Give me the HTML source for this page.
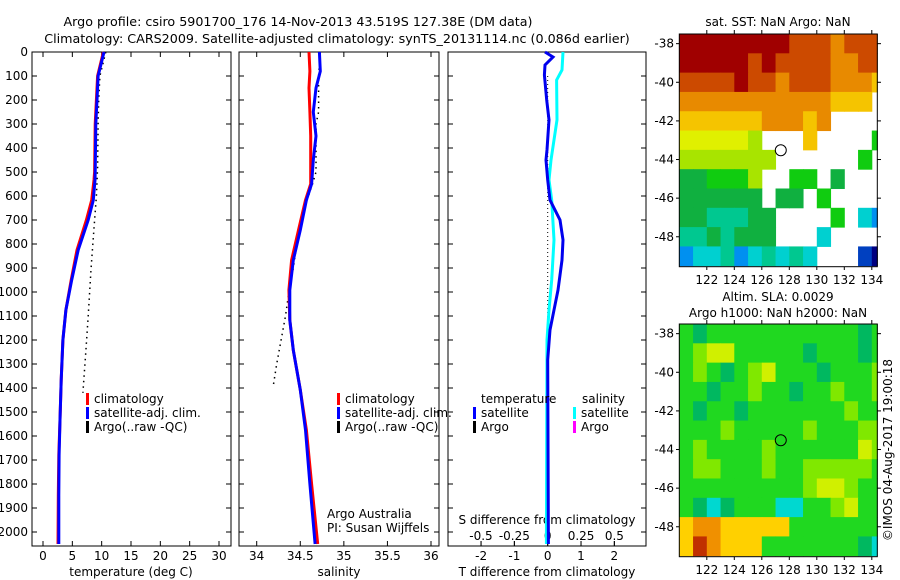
<!DOCTYPE html>
<html><head><meta charset="utf-8"><style>
body{margin:0;background:#fff}
svg{display:block;font-family:"DejaVu Sans","Liberation Sans",sans-serif;font-size:12px}
</style></head><body>
<svg id="s" width="900" height="580" viewBox="0 0 900 580">
<text x="298" y="26" text-anchor="middle" style="font-size:12.7px">Argo profile: csiro 5901700_176 14-Nov-2013 43.519S 127.38E (DM data)</text>
<text x="337" y="43" text-anchor="middle" style="font-size:12.7px">Climatology: CARS2009. Satellite-adjusted climatology: synTS_20131114.nc (0.086d earlier)</text>
<g id="g"></g>
</svg>
<script>
// ---- data ----
const tDepth=[0,100,200,300,500,533,617,700,825,950,1075,1200,1367,1533,1680,1850,2050];
const tSat=[10.4,9.4,9.2,9.0,8.9,8.86,8.57,7.7,6.0,4.9,3.9,3.4,3.1,2.9,2.75,2.7,2.7];
const tClim=[10.3,9.3,9.1,8.9,8.8,8.7,8.3,7.4,5.8,4.8,3.9,3.4,3.1,2.9,2.7,2.6,2.55];
const argoTDepth=[0,100,200,300,480,600,700,900,1100,1250,1420];
const argoT=[10.7,9.7,9.5,9.4,9.3,9.1,8.8,8.2,7.7,7.3,6.8];
const sDepth=[0,80,150,250,350,450,550,617,742,867,992,1117,1242,1408,1575,1800,2050];
const sSat=[34.72,34.73,34.68,34.65,34.68,34.65,34.63,34.57,34.50,34.42,34.38,34.38,34.42,34.50,34.56,34.61,34.67];
const sClim=[34.60,34.61,34.60,34.61,34.62,34.62,34.62,34.56,34.48,34.40,34.37,34.38,34.42,34.50,34.57,34.63,34.70];
const argoSDepth=[0,100,250,300,500,550,700,900,1000,1100,1200,1300,1390];
const argoS=[34.73,34.71,34.71,34.68,34.68,34.64,34.50,34.42,34.37,34.33,34.28,34.23,34.19];
const dDepth=[0,21,54,96,200,283,408,450,533,617,700,783,867,992,1075,1158,1283,2050];
const dT=[-0.08,0.16,-0.08,-0.1,-0.03,0.04,-0.02,-0.05,0,0.07,0.37,0.46,0.43,0.31,0.19,0.07,0,0.02];
const dSDepth=[0,75,117,283,450,533,617,783,950,1075,1200,2050];
const dS=[0.115,0.107,0.067,0.07,0.025,0.01,0.03,0.047,0.03,0.01,-0.005,-0.01];
const depthTicks=[0,100,200,300,400,500,600,700,800,900,1000,1100,1200,1300,1400,1500,1600,1700,1800,1900,2000];
const tempTicks=[0,5,10,15,20,25,30];
const salTicks=[34,34.5,35,35.5,36];
const dTTicks=[-2,-1,0,1,2];
const dSTicks=[-0.5,-0.25,0,0.25,0.5];
const lonTicks=[122,124,126,128,130,132,134];
const latTicks=[38,40,42,44,46,48];
const sstRows=["RRRRRRRRrrrorrr","RRRRRrRrrrroorr","rrrrRrrorrroooy","oooooooooooyyy.","yyyyyyoooyo....","YYYYYl...y....g","lllllll......g.","GGgggl..gg.G...","GGGGGG.GG.g....","GGcccGG....g.Cb","ccGcGGG...C....","bCCcbCcCcC...BN"];
const slaRows=["gdgggggggggggdg","glYYgggggdgggdg","glgdglYgggdgggl","ggdgglggdgglggl","gdggdggggggglgg","ggglggggglgggll","glgggglggggggYl","gllggglgglllllg","ggggggggglYYlgg","gdCdgggCCgglYgg","yooyyyyyggggggg","yRoyyygggggggdC"];
const sstPal={R:"#a00000",r:"#cc4a00",o:"#e88a00",y:"#f5c400",Y:"#e0f000",l:"#a8e400",g:"#10cc10",G:"#10b040",c:"#00c890",C:"#00d0d0",b:"#0090f0",B:"#0040c0",N:"#000080"};
const slaPal={g:"#20d820",l:"#80e800",Y:"#d0f000",d:"#00b860",C:"#00d8d0",y:"#ffd000",o:"#f09000",R:"#c03000"};
const argoLon=127.38, argoLat=43.52;

const NS="http://www.w3.org/2000/svg";
const G=document.getElementById('g');
function mk(tag,at,parent){const e=document.createElementNS(NS,tag);for(const k in at)e.setAttribute(k,at[k]);(parent||G).appendChild(e);return e;}
function lin(d0,d1,r0,r1){return v=>r0+(v-d0)*(r1-r0)/(d1-d0);}
const Y=lin(0,2000,52,532);
const TOP=52,BOT=546;
const panels=[{x0:32,x1:231},{x0:239,x1:439},{x0:448,x1:646}];
const xT=lin(0,30,43,219), xS=lin(34,36,256.7,431), xD=lin(0,1,547.7,581), xDS=lin(0,0.5,547.7,614.4);

panels.forEach((p,i)=>{
 const r=mk('rect',{x:p.x0,y:TOP,width:p.x1-p.x0,height:BOT-TOP,fill:'none',stroke:'#000','stroke-width':1});
 
 
 depthTicks.forEach(d=>{
  const t=mk('line',{x1:p.x0,x2:p.x0+5,y1:Y(d),y2:Y(d),stroke:'#000'});
  
  
  const t2=mk('line',{x1:p.x1,x2:p.x1-5,y1:Y(d),y2:Y(d),stroke:'#000'});
  
  
 });
});
depthTicks.forEach(d=>{
 const t=mk('text',{x:28,y:Y(d)+4,'text-anchor':'end'});t.textContent=d;
 
 
});
function xticks(arr,fx,yb,labY,fmt,top){
 arr.forEach(v=>{
  const x=fx(v);
  const l=mk('line',{x1:x,x2:x,y1:yb,y2:yb-5,stroke:'#000'});
  
  
  if(top){const l2=mk('line',{x1:x,x2:x,y1:TOP,y2:TOP+5,stroke:'#000'});
   
   }
  const t=mk('text',{x:x,y:labY,'text-anchor':'middle'});t.textContent=fmt(v);
  
  
 });
}
xticks(tempTicks,xT,BOT,560,v=>v,true);
xticks(salTicks,xS,BOT,560,v=>v,true);
xticks(dTTicks,xD,BOT,560,v=>(v<0?'-':'')+Math.abs(v),false);
xticks(dSTicks,xDS,BOT,540,v=>(v<0?'-':'')+Math.abs(v),false);
[[131,'temperature (deg C)','x-axis-title-temperature'],[339,'salinity','x-axis-title-salinity'],[547,'T difference from climatology','x-axis-title-tdiff']].forEach(a=>{
 const t=mk('text',{x:a[0],y:576,'text-anchor':'middle'});t.textContent=a[1];
 
 
});
const sl=mk('text',{x:547,y:524,'text-anchor':'middle'});sl.textContent='S difference from climatology';



function line(ds,vs,fx,col,w,name,dash){
 const pts=ds.map((d,i)=>fx(vs[i]).toFixed(1)+','+Y(d).toFixed(1)).join(' ');
 const a={points:pts,fill:'none',stroke:col,'stroke-width':w};
 if(dash)a['stroke-dasharray']=dash;
 const e=mk('polyline',a);
 
 
}
line(argoTDepth,argoT,xT,'#000',1.5,'argo-temperature-profile','1.5 4');
line(tDepth,tClim,xT,'#f00',3,'temperature-climatology');
line(tDepth,tSat,xT,'#00f',3,'temperature-satellite-clim');
line(argoSDepth,argoS,xS,'#000',1.5,'argo-salinity-profile','1.5 4');
line(sDepth,sClim,xS,'#f00',3,'salinity-climatology');
line(sDepth,sSat,xS,'#00f',3,'salinity-satellite-clim');
line([100,1400],[0,0],xD,'#000',1,'argo-diff-dotted','1 3');
line(dSDepth,dS,xDS,'#00ffff',3,'salinity-difference-satellite');
line(dDepth,dT,xD,'#0000ee',3,'temperature-difference-satellite');

function legend(x,y,col,txt,name){
 const m=mk('rect',{x:x,y:y-10,width:3,height:12,fill:col});
 
 
 const t=mk('text',{x:x+8,y:y});t.textContent=txt;
 
 
}
legend(86,403,'#f00','climatology','legend-climatology-t');
legend(86,417,'#00f','satellite-adj. clim.','legend-satellite-t');
legend(86,431,'#000','Argo(..raw -QC)','legend-argo-t');
legend(337,403,'#f00','climatology','legend-climatology-s');
legend(337,417,'#00f','satellite-adj. clim.','legend-satellite-s');
legend(337,431,'#000','Argo(..raw -QC)','legend-argo-s');
legend(473,417,'#00f','satellite','legend-tdiff-satellite');
legend(473,431,'#000','Argo','legend-tdiff-argo');
legend(573,417,'#00ffff','satellite','legend-sdiff-satellite');
legend(573,431,'#ff00ff','Argo','legend-sdiff-argo');
[[481,403,'temperature','legend-heading-temperature'],[582,403,'salinity','legend-heading-salinity'],[327,518,'Argo Australia','credit-argo-australia'],[327,532,'PI: Susan Wijffels','credit-pi']].forEach(a=>{
 const t=mk('text',{x:a[0],y:a[1]});t.textContent=a[2];
 
 
});

const lonX=lin(120,134.4,679.3,877.3);
function map(top,rows,pal,name){
 const latY=lin(37.5,49.55,top,top+232.7);
 rows.forEach((row,r)=>{
  for(let c=0;c<row.length;c++){
   const ch=row[c]; if(ch==='.')continue;
   const x0=lonX(120+c),x1=Math.min(lonX(121+c),877.3);
   const y0=latY(37.5+r),y1=Math.min(latY(38.5+r),top+232.7);
   const e=mk('rect',{x:x0,y:y0,width:x1-x0+0.5,height:y1-y0+0.5,fill:pal[ch]});
   
   
  }
 });
 const f=mk('rect',{x:679.3,y:top,width:198,height:232.7,fill:'none',stroke:'#000'});
 
 
 lonTicks.forEach(v=>{
  const x=lonX(v);
  const l=mk('line',{x1:x,x2:x,y1:top,y2:top-4,stroke:'#000'});
  
  
  const l2=mk('line',{x1:x,x2:x,y1:top+232.7,y2:top+236,stroke:'#000'});
  
  
  const t=mk('text',{x:x,y:top+250,'text-anchor':'middle'});t.textContent=v;
  
  
 });
 latTicks.forEach(v=>{
  const y=latY(v);
  const l=mk('line',{x1:877.3,x2:881,y1:y,y2:y,stroke:'#000'});
  
  
  const l2=mk('line',{x1:679.3,x2:676,y1:y,y2:y,stroke:'#000'});
  
  
  const t=mk('text',{x:674,y:y+4,'text-anchor':'end'});t.textContent='-'+v;
  
  
 });
 const c=mk('circle',{cx:lonX(argoLon),cy:latY(argoLat),r:5.5,fill:'none',stroke:'#000'});
 
 
}
map(34,sstRows,sstPal,'sst-map');
map(324,slaRows,slaPal,'sla-map');
[[778,26,'sat. SST: NaN Argo: NaN','sst-map-title'],[778,301,'Altim. SLA: 0.0029','sla-map-title-1'],[778,317,'Argo h1000: NaN h2000: NaN','sla-map-title-2']].forEach(a=>{
 const t=mk('text',{x:a[0],y:a[1],'text-anchor':'middle'});t.textContent=a[2];
 
 
});
const im=mk('text',{x:0,y:0,'text-anchor':'middle',transform:'translate(892,450) rotate(-90)'});
im.textContent='\u00a9IMOS 04-Aug-2017 19:00:18';


</script>
</body></html>
